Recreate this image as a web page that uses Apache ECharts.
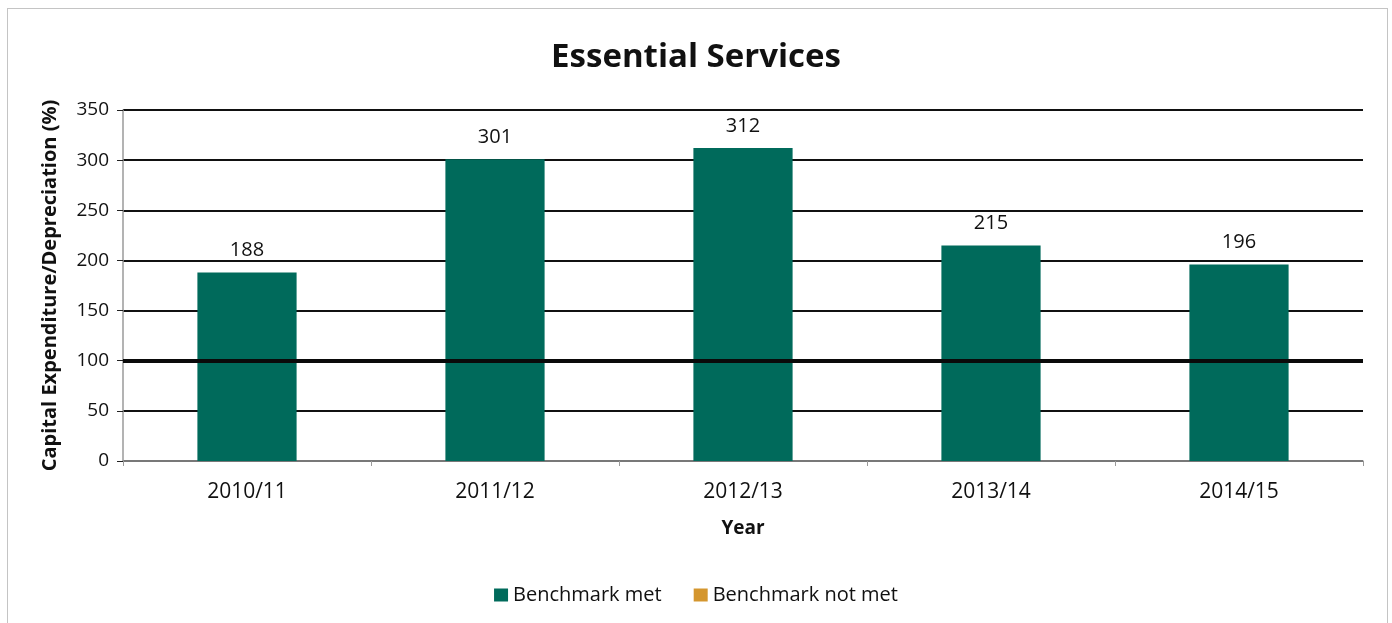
<!DOCTYPE html>
<html>
<head>
<meta charset="utf-8">
<script src="https://cdn.jsdelivr.net/npm/echarts@6/dist/echarts.min.js"></script>
<style>
  html, body { margin: 0; padding: 0; background: #ffffff; overflow: hidden; }
  #frame { position: absolute; left: 7px; top: 8px; width: 1381px; height: 640px; border: 1.5px solid #c4c4c4; box-sizing: border-box; }
  #chart { position: absolute; left: 0; top: 0; width: 1392px; height: 623px; }
</style>
</head>
<body>
<div id="frame"></div>
<div id="chart"></div>
<script>
// Capital expenditure as a share of depreciation, by financial year
const years = ['2010/11', '2011/12', '2012/13', '2013/14', '2014/15'];
const benchmarkMet = [188, 301, 312, 215, 196];
const benchmarkNotMet = [null, null, null, null, null];
const benchmarkLevel = 100;
const yTicks = [0, 50, 100, 150, 200, 250, 300, 350];

const FONT = '"Open Sans", sans-serif';
const chart = echarts.init(document.getElementById('chart'), null, { renderer: 'canvas' });

chart.setOption({
  backgroundColor: 'transparent',
  animation: false,
  title: {
    text: 'Essential Services',
    left: 'center',
    top: 36,
    textStyle: { fontFamily: FONT, fontSize: 33, fontWeight: 'bold', color: '#111' }
  },
  legend: {
    top: 580,
    left: 'center',
    itemWidth: 14,
    itemHeight: 13,
    itemGap: 32,
    icon: 'rect',
    textStyle: { fontFamily: FONT, fontSize: 20, color: '#111' },
    data: ['Benchmark met', 'Benchmark not met']
  },
  grid: { left: 123, right: 29, top: 110, bottom: 162 },
  xAxis: {
    type: 'category',
    data: years,
    name: 'Year',
    nameLocation: 'middle',
    nameGap: 58,
    nameTextStyle: { fontFamily: FONT, fontSize: 19, fontWeight: 'bold', color: '#111' },
    axisLine: { lineStyle: { color: '#9a9a9a', width: 1.5 } },
    axisTick: { show: true, length: 5, lineStyle: { color: '#9a9a9a' } },
    axisLabel: { fontFamily: FONT, fontSize: 21, color: '#111', margin: 21 }
  },
  yAxis: {
    type: 'value',
    min: yTicks[0],
    max: yTicks[yTicks.length - 1],
    interval: 50,
    name: 'Capital Expenditure/Depreciation (%)',
    nameLocation: 'middle',
    nameGap: 63,
    nameTextStyle: { fontFamily: FONT, fontSize: 20, fontWeight: 'bold', color: '#111' },
    axisLine: { show: true, lineStyle: { color: '#9a9a9a', width: 1.5 } },
    axisTick: { show: true, length: 6, lineStyle: { color: '#222' } },
    axisLabel: { fontFamily: FONT, fontSize: 19, color: '#111', margin: 14 },
    splitLine: { lineStyle: { color: '#111', width: 2 } }
  },
  series: [
    {
      name: 'Benchmark met',
      type: 'bar',
      data: benchmarkMet,
      barWidth: '40%',
      barGap: '-100%',
      itemStyle: { color: '#006a5b' },
      label: {
        show: true,
        position: 'top',
        distance: 12,
        fontFamily: FONT,
        fontSize: 20,
        color: '#111'
      },
      markLine: {
        silent: true,
        symbol: 'none',
        label: { show: false },
        lineStyle: { color: '#0a0a0a', width: 4, type: 'solid' },
        data: [{ yAxis: benchmarkLevel }],
        z: 10
      }
    },
    {
      name: 'Benchmark not met',
      type: 'bar',
      data: benchmarkNotMet,
      barWidth: '40%',
      itemStyle: { color: '#d4962e' }
    }
  ]
});
</script>
</body>
</html>
